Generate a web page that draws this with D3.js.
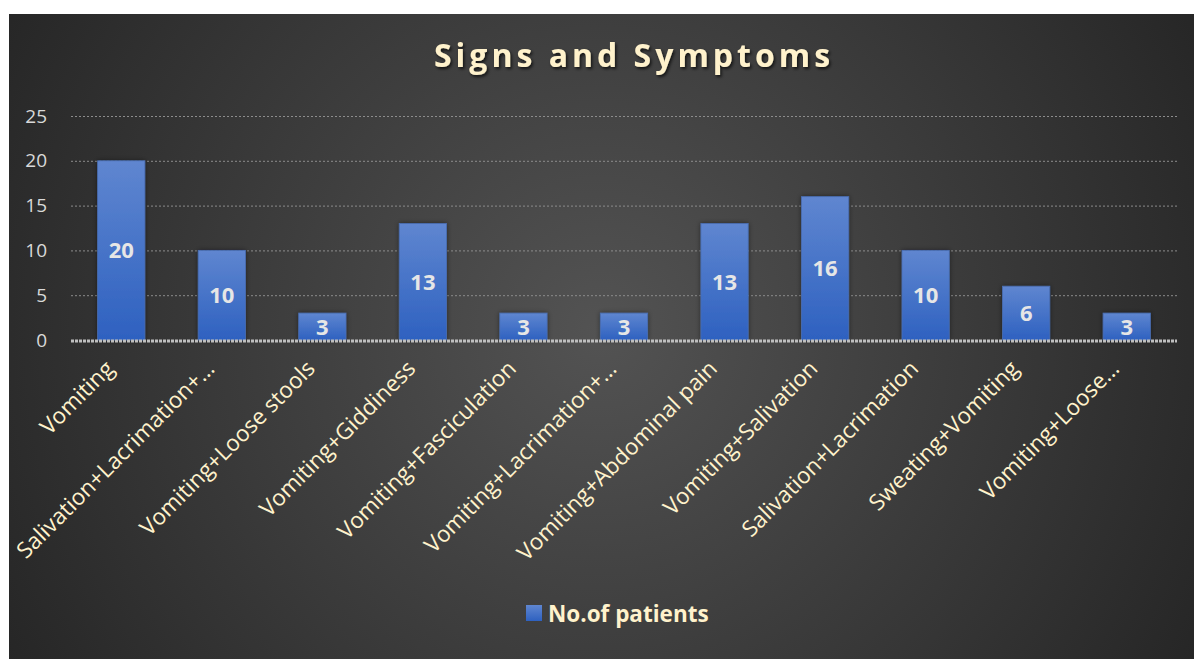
<!DOCTYPE html>
<html>
<head>
<meta charset="utf-8">
<script src="https://cdn.jsdelivr.net/npm/d3@7"></script>
<style>
  body { margin: 0; background: #ffffff; }
  svg { display: block; }
</style>
</head>
<body>
<div id="chart"></div>
<script>
// Data ------------------------------------------------------------------------------------------------------------
const categories = [
  "Vomiting",
  "Salivation+Lacrimation+…",
  "Vomiting+Loose stools",
  "Vomiting+Giddiness",
  "Vomiting+Fasciculation",
  "Vomiting+Lacrimation+…",
  "Vomiting+Abdominal pain",
  "Vomiting+Salivation",
  "Salivation+Lacrimation",
  "Sweating+Vomiting",
  "Vomiting+Loose…"
];
const patients = [20, 10, 3, 13, 3, 3, 13, 16, 10, 6, 3];
const yTicks = [0, 5, 10, 15, 20, 25];
const seriesName = "No.of patients";
const chartTitle = "Signs and Symptoms";

// Canvas ----------------------------------------------------------------------------------------------------------
const canvasWidth = 1194;
const canvasHeight = 659;

const leftPadding = 71;
const rightPadding = 17;
const topPadding = 116;
const plotBottom = 340;

const fontFamily = "'Open Sans', Lato, sans-serif";
const cream = "#fff2cc";

const svg = d3.select("#chart")
  .append("svg")
  .attr("width", canvasWidth)
  .attr("height", canvasHeight);

const defs = svg.append("defs");

const bg = defs.append("radialGradient")
  .attr("id", "bg")
  .attr("gradientUnits", "userSpaceOnUse")
  .attr("cx", 600).attr("cy", 330).attr("r", 680);
bg.append("stop").attr("offset", "0%").attr("stop-color", "#535353");
bg.append("stop").attr("offset", "100%").attr("stop-color", "#262626");

const barGrad = defs.append("linearGradient")
  .attr("id", "barGrad")
  .attr("x1", 0).attr("y1", 0).attr("x2", 0).attr("y2", 1);
barGrad.append("stop").attr("offset", "0%").attr("stop-color", "#5f86d0");
barGrad.append("stop").attr("offset", "100%").attr("stop-color", "#2e61c0");

const shadow = defs.append("filter").attr("id", "shadow")
  .attr("x", "-10%").attr("y", "-30%").attr("width", "120%").attr("height", "160%");
shadow.append("feDropShadow")
  .attr("dx", 1.5).attr("dy", 2).attr("stdDeviation", 1.5)
  .attr("flood-color", "#000").attr("flood-opacity", 0.7);

const barShadow = defs.append("filter").attr("id", "barShadow")
  .attr("x", "-20%").attr("y", "-20%").attr("width", "140%").attr("height", "140%");
barShadow.append("feDropShadow")
  .attr("dx", 0).attr("dy", 0).attr("stdDeviation", 2.5)
  .attr("flood-color", "#000").attr("flood-opacity", 0.45);

// Panel
svg.append("rect")
  .attr("x", 9).attr("y", 14)
  .attr("width", canvasWidth - 9).attr("height", canvasHeight - 14)
  .attr("fill", "url(#bg)");

// Title
svg.append("text")
  .text(chartTitle)
  .attr("x", 634).attr("y", 67)
  .attr("text-anchor", "middle")
  .attr("fill", cream)
  .attr("filter", "url(#shadow)")
  .style("font-family", fontFamily)
  .style("font-weight", "bold")
  .style("font-size", "32px")
  .style("letter-spacing", "4px");

// Scales ----------------------------------------------------------------------------------------------------------
const xScale = d3.scaleBand()
  .domain(categories)
  .range([leftPadding, canvasWidth - rightPadding])
  .paddingInner(0.53)
  .paddingOuter(0.265);

const yScale = d3.scaleLinear()
  .domain([0, 25])
  .range([plotBottom, topPadding]);

// Gridlines
svg.append("g")
  .attr("class", "grid")
  .attr("transform", "translate(" + leftPadding + ",0)")
  .call(d3.axisLeft(yScale).tickValues(yTicks.filter(d => d > 0))
    .tickSize(-(canvasWidth - rightPadding - leftPadding)).tickFormat(""))
  .call(g => g.select(".domain").remove())
  .selectAll("line")
  .attr("stroke", "#8c8c8c")
  .attr("stroke-width", 1)
  .attr("stroke-dasharray", "2,2");

// Y axis labels
const yAxis = svg.append("g")
  .attr("transform", "translate(" + (leftPadding - 21) + ",0)")
  .call(d3.axisLeft(yScale).tickValues(yTicks).tickSize(0));
yAxis.select(".domain").remove();
yAxis.selectAll("text")
  .attr("fill", "#d9d9d9")
  .style("font-family", fontFamily)
  .style("font-size", "19px");

// Bars
svg.append("g")
  .selectAll("rect")
  .data(patients)
  .join("rect")
  .attr("x", (d, i) => xScale(categories[i]))
  .attr("y", d => yScale(d))
  .attr("width", xScale.bandwidth())
  .attr("height", d => yScale(0) - yScale(d))
  .attr("fill", "url(#barGrad)")
  .attr("stroke", "#4a6fb5")
  .attr("stroke-width", 0.8)
  .attr("filter", "url(#barShadow)");

// Baseline (category axis)
svg.append("line")
  .attr("x1", leftPadding).attr("x2", canvasWidth - rightPadding)
  .attr("y1", plotBottom + 1).attr("y2", plotBottom + 1)
  .attr("stroke", "#bfbfbf")
  .attr("stroke-width", 3)
  .attr("stroke-dasharray", "3,1");

// Data labels
svg.append("g")
  .selectAll("text")
  .data(patients)
  .join("text")
  .text(d => d)
  .attr("x", (d, i) => xScale(categories[i]) + xScale.bandwidth() / 2)
  .attr("y", d => (yScale(d) + yScale(0)) / 2 + 8)
  .attr("text-anchor", "middle")
  .attr("fill", "#e6e6e6")
  .style("font-family", fontFamily)
  .style("font-weight", "bold")
  .style("font-size", "22px");

// Category labels
svg.append("g")
  .selectAll("text")
  .data(categories)
  .join("text")
  .text(d => d)
  .attr("transform", d => "translate(" + (xScale(d) + xScale.bandwidth() / 2 - 6) + "," + (plotBottom + 30) + ") rotate(-45)")
  .attr("text-anchor", "end")
  .attr("fill", cream)
  .style("font-family", fontFamily)
  .style("font-size", "22.5px");

// Legend
const legend = svg.append("g").attr("transform", "translate(526,605)");
legend.append("rect")
  .attr("width", 16).attr("height", 16)
  .attr("fill", "url(#barGrad)");
legend.append("text")
  .text(seriesName)
  .attr("x", 22).attr("y", 17)
  .attr("fill", cream)
  .style("font-family", fontFamily)
  .style("font-weight", "bold")
  .style("font-size", "22.5px");
</script>
</body>
</html>
